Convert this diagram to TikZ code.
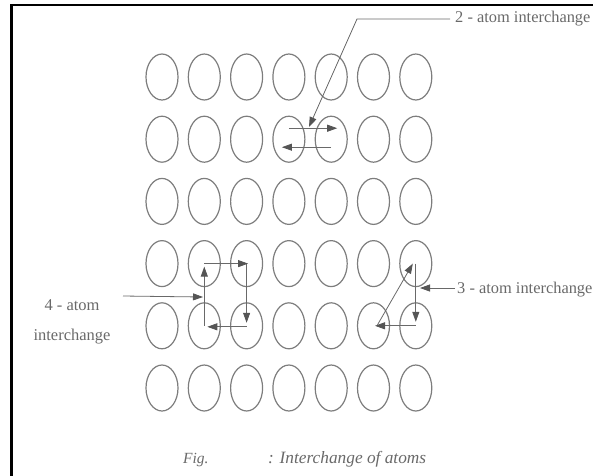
\documentclass[tikz,border=0pt]{standalone}
\usepackage{fontspec}
\setmainfont{Liberation Serif}
\usetikzlibrary{arrows.meta,shapes.geometric}
\definecolor{atomgray}{RGB}{125,125,125}
\definecolor{linegray}{RGB}{105,105,105}
\definecolor{headgray}{RGB}{85,85,85}
\definecolor{textgray}{RGB}{105,105,105}
\begin{document}
\begin{tikzpicture}[x=1pt,y=-1pt,
  atom/.style={ellipse, draw=atomgray, line width=1.2pt, minimum width=32pt, minimum height=46pt, inner sep=0pt},
  link/.style={draw=linegray, line width=0.8pt},
  arr/.style={link, -{Triangle[length=10pt,width=7pt,fill=headgray,color=headgray]}},
  lbl/.style={text=textgray, font=\fontsize{16.5}{30}\selectfont, inner sep=0pt},
  biglbl/.style={text=textgray, font=\fontsize{16.4}{20}\selectfont, inner sep=0pt},
  captext/.style={text=textgray, font=\fontsize{17.3}{20}\selectfont\itshape, inner sep=0pt},
  frameline/.style={draw=black, line width=2.6pt}
]
\useasboundingbox (0,0) rectangle (593,475);
\draw[frameline] (11.5,485) -- (11.5,5) -- (605,5);

\foreach \r in {1,...,6} {
  \foreach \c in {1,...,7} {
    \node[atom] (a\r\c) at ({162+42.3*(\c-1)},{77+62.2*(\r-1)}) {};
  }
}

% 2-atom interchange
\draw[arr] ([yshift=11pt]a24.center) -- ([xshift=6pt,yshift=11pt]a25.center);
\draw[arr] ([yshift=-8pt]a25.center) -- ([xshift=-7pt,yshift=-8pt]a24.center);
\node[biglbl, anchor=base west] (l2) at (455,22) {2 - atom interchange};
\coordinate (k2) at (357,19);
\coordinate (t2) at (309,127);
\coordinate (s2) at (450,19);
\draw[arr] (s2) -- (k2) -- (t2);

% 3-atom interchange
\draw[arr] (a47.center) -- ([yshift=4pt]a57.center);
\draw[arr] (a57.center) -- ([xshift=1.5pt]a56.center);
\draw[arr] ([xshift=4pt,yshift=1pt]a56.center) -- ([xshift=-3pt]a47.center);
\node[biglbl, anchor=base west] (l3) at (457,293) {3 - atom interchange};
\coordinate (t3) at (420,288);
\coordinate (s3) at (455,288);
\draw[arr] (s3) -- (t3);

% 4-atom interchange
\draw[arr] (a52.center) -- ([yshift=-3pt]a42.center);
\draw[arr] (a42.center) -- ([xshift=1.5pt]a43.center);
\draw[arr] (a43.center) -- ([yshift=3pt]a53.center);
\draw[arr] ([yshift=-1pt]a53.center) -- ([xshift=3pt,yshift=-1pt]a52.center);
\node[lbl, align=center] (l4) at (72,322) {4 - atom\\interchange};
\coordinate (k4) at (123,296);
\coordinate (t4) at (203,297);
\draw[arr] (k4) -- (t4);

% caption
\node[captext, anchor=base west, font=\fontsize{15.5}{20}\selectfont\itshape] (fig) at (183,463) {Fig.};
\node[captext, anchor=base west] (capt) at (268,463) {: Interchange of atoms};
\end{tikzpicture}
\end{document}
